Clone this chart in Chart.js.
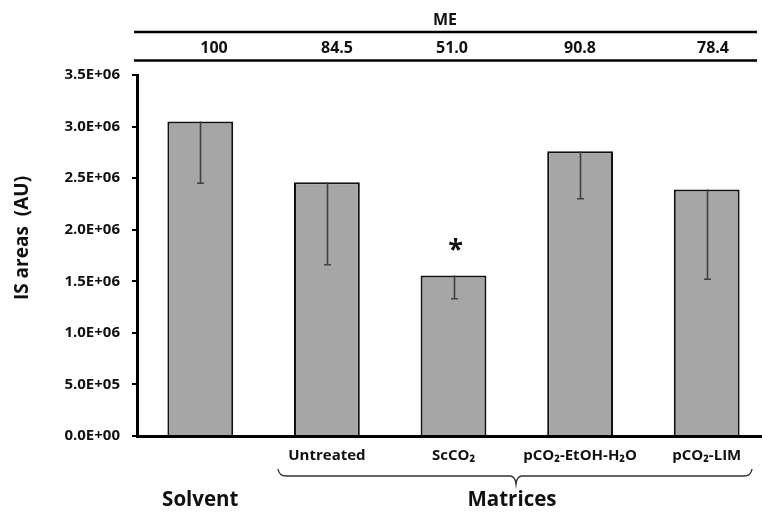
<!DOCTYPE html>
<html>
<head>
<meta charset="utf-8">
<script src="https://cdn.jsdelivr.net/npm/chart.js@4"></script>
<style>
  html, body { margin: 0; padding: 0; background: #fff; overflow: hidden; }
  #wrap { width: 762px; height: 513px; overflow: hidden; position: relative; }
  canvas { display: block; }
</style>
</head>
<body>
<div id="wrap"><canvas id="c" width="772" height="513"></canvas></div>
<script>
// Internal-standard peak areas per sample type
const categories = ['Solvent', 'Untreated', 'ScCO₂', 'pCO₂-EtOH-H₂O', 'pCO₂-LIM'];
const tickLabels = ['', 'Untreated', 'ScCO₂', 'pCO₂-EtOH-H₂O', 'pCO₂-LIM'];
const isAreas = [3.05e6, 2.46e6, 1.555e6, 2.76e6, 2.39e6];
const isErrors = [0.60e6, 0.80e6, 0.225e6, 0.46e6, 0.87e6];
// Matrix effect (%) shown in the header row
const meValues = ['100', '84.5', '51.0', '90.8', '78.4'];
// Significance marks per bar
const marks = ['', '', '*', '', ''];
// Y axis range
const yMin = 0, yMax = 3.5e6, yStep = 5e5;

const FONT = "'Open Sans', 'Noto Sans', sans-serif";
const INK = '#111';

// header table column centres (x, px)
const meColumnX = [214, 337, 452, 580, 713];

function sciLabel(v) {
  if (v === 0) return '0.0E+00';
  const e = Math.floor(Math.log10(Math.abs(v)) + 1e-9);
  const m = v / Math.pow(10, e);
  return m.toFixed(1) + 'E' + (e < 0 ? '-' : '+') + String(Math.abs(e)).padStart(2, '0');
}

const decorations = {
  id: 'decorations',
  afterDatasetsDraw(chart) {
    const ctx = chart.ctx;
    const y = chart.scales.y;
    const meta = chart.getDatasetMeta(0);

    // minus-direction error bars
    ctx.save();
    ctx.strokeStyle = '#404040';
    ctx.lineWidth = 1.6;
    meta.data.forEach((bar, i) => {
      const x = Math.round(bar.x) + 0.5;
      const yTop = y.getPixelForValue(isAreas[i]);
      const yLow = y.getPixelForValue(isAreas[i] - isErrors[i]);
      ctx.beginPath();
      ctx.moveTo(x, yTop);
      ctx.lineTo(x, yLow);
      ctx.moveTo(x - 3.5, yLow);
      ctx.lineTo(x + 3.5, yLow);
      ctx.stroke();
    });
    ctx.restore();

    // significance marks
    ctx.save();
    ctx.fillStyle = INK;
    ctx.font = 'bold 27px ' + FONT;
    ctx.textAlign = 'center';
    ctx.textBaseline = 'alphabetic';
    meta.data.forEach((bar, i) => {
      if (!marks[i]) return;
      const yTop = y.getPixelForValue(isAreas[i]);
      ctx.fillText(marks[i], bar.x + 2, yTop - 18);
    });
    ctx.restore();
  },
  afterDraw(chart) {
    const ctx = chart.ctx;
    const meta = chart.getDatasetMeta(0);
    ctx.save();
    ctx.fillStyle = INK;
    ctx.strokeStyle = '#000';

    // header table: ME
    ctx.lineWidth = 2.5;
    ctx.beginPath();
    ctx.moveTo(134, 32); ctx.lineTo(757, 32);
    ctx.moveTo(134, 60.5); ctx.lineTo(757, 60.5);
    ctx.stroke();
    ctx.textAlign = 'center';
    ctx.textBaseline = 'middle';
    ctx.font = 'bold 16px ' + FONT;
    ctx.fillText('ME', 445, 20);
    meValues.forEach((v, i) => ctx.fillText(v, meColumnX[i], 48));

    // y axis title
    ctx.save();
    ctx.translate(23, 238);
    ctx.rotate(-Math.PI / 2);
    ctx.font = 'bold 19px ' + FONT;
    ctx.fillText('IS areas  (AU)', 0, 0);
    ctx.restore();

    // group labels
    ctx.font = 'bold 20.5px ' + FONT;
    ctx.fillText('Solvent', meta.data[0].x, 500);
    ctx.fillText('Matrices', 512, 500);

    // brace spanning the matrix samples
    const xl = 278, xr = 752, xm = 516, yb = 476;
    ctx.strokeStyle = '#333';
    ctx.lineWidth = 1.4;
    ctx.beginPath();
    ctx.moveTo(xl, 469);
    ctx.quadraticCurveTo(xl + 1, yb, xl + 8, yb);
    ctx.lineTo(xm - 6, yb);
    ctx.quadraticCurveTo(xm - 1, yb, xm, yb + 8);
    ctx.quadraticCurveTo(xm + 1, yb, xm + 6, yb);
    ctx.lineTo(xr - 8, yb);
    ctx.quadraticCurveTo(xr - 1, yb, xr, 469);
    ctx.stroke();
    ctx.restore();
  }
};

new Chart(document.getElementById('c'), {
  type: 'bar',
  data: {
    labels: categories,
    datasets: [{
      data: isAreas,
      backgroundColor: '#a6a6a6',
      borderColor: '#111',
      borderWidth: 2,
      categoryPercentage: 1,
      barPercentage: 0.52
    }]
  },
  options: {
    responsive: false,
    animation: false,
    devicePixelRatio: 1,
    layout: { padding: { top: 75, right: 2, bottom: 0, left: 0 } },
    plugins: { legend: { display: false }, tooltip: { enabled: false } },
    scales: {
      x: {
        offset: true,
        grid: { display: false },
        border: { display: true, color: '#000', width: 3 },
        ticks: {
          autoSkip: false,
          maxRotation: 0,
          padding: 3,
          color: INK,
          font: { family: FONT, size: 15, weight: 'bold' },
          callback: (v, i) => tickLabels[i]
        },
        afterFit: (s) => { s.height = 77; }
      },
      y: {
        min: yMin,
        max: yMax,
        ticks: {
          stepSize: yStep,
          padding: 12,
          color: INK,
          font: { family: FONT, size: 15, weight: 'bold' },
          callback: (v) => sciLabel(v)
        },
        grid: { drawOnChartArea: false, drawTicks: true, tickLength: 5, color: '#000', lineWidth: 2 },
        border: { display: true, color: '#000', width: 3 },
        afterFit: (s) => { s.width = 137; }
      }
    }
  },
  plugins: [decorations]
});
</script>
</body>
</html>
